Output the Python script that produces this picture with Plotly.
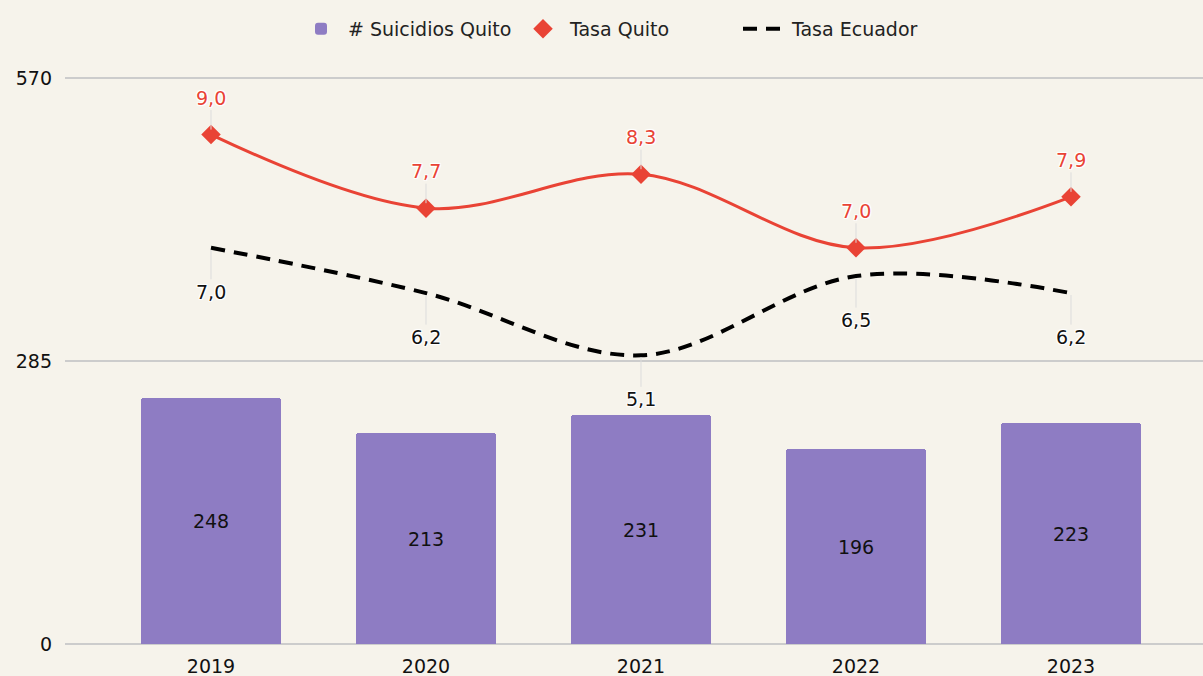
import plotly.graph_objects as go

# Data
years = ["2019", "2020", "2021", "2022", "2023"]
suicidios_quito = [248, 213, 231, 196, 223]
tasa_quito = [9.0, 7.7, 8.3, 7.0, 7.9]
tasa_ecuador = [7.0, 6.2, 5.1, 6.5, 6.2]

BG = "#F6F3EB"
PURPLE = "#8E7CC3"
RED = "#E94335"
FONT = "DejaVu Sans"
HALO = "1px 1px 1px #fff, -1px -1px 1px #fff, 1px -1px 1px #fff, -1px 1px 1px #fff, 0 0 2px #fff"

# Left axis spans 0..570 counts, right (hidden) axis spans 0..10 rate units.
Y_MAX = 570
Y2_MAX = 10
PAD = 3  # padding so the 0 and 570 gridlines are not clipped at the edges
y_range = [-PAD, Y_MAX + PAD]
y2_range = [v * Y2_MAX / Y_MAX for v in y_range]

x = list(range(len(years)))


def fmt(v):
    return f"{v:.1f}".replace(".", ",")


fig = go.Figure()

fig.add_trace(go.Bar(
    x=x, y=suicidios_quito, name="# Suicidios Quito",
    marker=dict(color=PURPLE, cornerradius=3, line=dict(width=0)),
    width=0.647,
    text=[str(v) for v in suicidios_quito],
    textposition="inside", insidetextanchor="middle",
    textfont=dict(family=FONT, size=19, color="#111"),
))

# Quito rate: smooth line plus diamond markers
fig.add_trace(go.Scatter(
    x=x, y=tasa_quito, yaxis="y2", mode="lines",
    line=dict(color=RED, width=3, shape="spline", smoothing=1),
    showlegend=False, hoverinfo="skip",
))
fig.add_trace(go.Scatter(
    x=x, y=tasa_quito, yaxis="y2", mode="markers", name="Tasa Quito",
    marker=dict(symbol="diamond", size=15, color=RED),
))

# Ecuador rate: dashed smooth line
fig.add_trace(go.Scatter(
    x=x, y=tasa_ecuador, yaxis="y2", mode="lines", name="Tasa Ecuador",
    line=dict(color="#000", width=4, dash="14px,9px", shape="spline", smoothing=1),
))

annotations = []
for xi, v in zip(x, tasa_quito):
    annotations.append(dict(
        x=xi, y=v, xref="x", yref="y2", text=fmt(v),
        showarrow=True, arrowhead=0, arrowwidth=1, arrowcolor="#dcdcdc",
        ax=0, ay=-37, standoff=5,
        font=dict(family=FONT, size=19, color=RED, shadow=HALO),
    ))
for xi, v in zip(x, tasa_ecuador):
    annotations.append(dict(
        x=xi, y=v, xref="x", yref="y2", text=fmt(v),
        showarrow=True, arrowhead=0, arrowwidth=1, arrowcolor="#dcdcdc",
        ax=0, ay=44, standoff=2,
        font=dict(family=FONT, size=19, color="#111", shadow=HALO),
    ))

fig.update_layout(
    width=1203, height=676,
    paper_bgcolor=BG, plot_bgcolor=BG,
    margin=dict(l=65, r=0, t=75, b=29),
    font=dict(family=FONT, size=19, color="#222"),
    bargap=0,
    xaxis=dict(
        tickvals=x, ticktext=years, range=[-0.679, 4.614],
        showgrid=False, zeroline=False, showline=False,
        ticks="", ticklabelstandoff=6, automargin=False,
        tickfont=dict(family=FONT, size=19, color="#111"),
    ),
    yaxis=dict(
        range=y_range, tickvals=[0, 285, 570],
        showgrid=True, gridcolor="#cccccc", gridwidth=1.5,
        zeroline=False, showline=False, ticks="", ticklabelstandoff=12,
        automargin=False,
        tickfont=dict(family=FONT, size=19, color="#111"),
    ),
    yaxis2=dict(range=y2_range, overlaying="y", visible=False),
    legend=dict(
        orientation="h", x=0.5 - 7 / 1138, xanchor="center",
        yref="container", y=1 - 29 / 676, yanchor="middle",
        font=dict(family=FONT, size=19, color="#222"),
        itemwidth=44, entrywidth=163, entrywidthmode="pixels",
        bgcolor="rgba(0,0,0,0)",
    ),
    annotations=annotations,
    showlegend=True,
)

fig.write_html("out.html")
